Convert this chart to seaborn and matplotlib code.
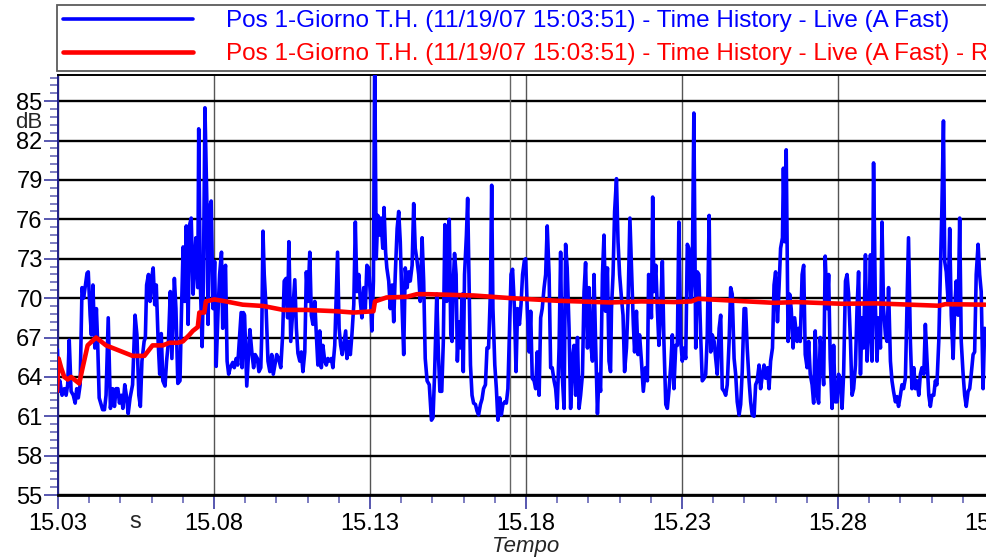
import numpy as np
import pandas as pd
import seaborn as sns
import matplotlib.pyplot as plt
from matplotlib.ticker import FixedLocator, MultipleLocator
from matplotlib.lines import Line2D

# Time history (A Fast)
blue_t = [15.0298, 15.0302, 15.0306, 15.0313, 15.0320, 15.0326, 15.0331, 15.0336, 15.0342, 15.0349,
          15.0355, 15.0360, 15.0365, 15.0371, 15.0377, 15.0382, 15.0388, 15.0393, 15.0397, 15.0403,
          15.0407, 15.0412, 15.0418, 15.0423, 15.0427, 15.0432, 15.0438, 15.0443, 15.0449, 15.0454,
          15.0461, 15.0468, 15.0475, 15.0481, 15.0486, 15.0492, 15.0497, 15.0503, 15.0508, 15.0514,
          15.0519, 15.0525, 15.0531, 15.0539, 15.0547, 15.0553, 15.0559, 15.0564, 15.0569, 15.0576,
          15.0580, 15.0584, 15.0590, 15.0595, 15.0600, 15.0605, 15.0610, 15.0615, 15.0621, 15.0626,
          15.0631, 15.0636, 15.0643, 15.0648, 15.0654, 15.0660, 15.0665, 15.0673, 15.0678, 15.0684,
          15.0691, 15.0696, 15.0701, 15.0706, 15.0711, 15.0717, 15.0722, 15.0727, 15.0733, 15.0738,
          15.0742, 15.0748, 15.0751, 15.0756, 15.0762, 15.0766, 15.0771, 15.0777, 15.0781, 15.0786,
          15.0791, 15.0797, 15.0802, 15.0807, 15.0813, 15.0818, 15.0824, 15.0828, 15.0833, 15.0837,
          15.0842, 15.0847, 15.0852, 15.0860, 15.0865, 15.0871, 15.0876, 15.0881, 15.0887,
          15.0890, 15.0894, 15.0898, 15.0905, 15.0910, 15.0915, 15.0922, 15.0927, 15.0932, 15.0939,
          15.0944, 15.0950, 15.0953, 15.0957, 15.0961, 15.0967, 15.0973, 15.0979, 15.0985, 15.0990,
          15.0995, 15.1001, 15.1007, 15.1014, 15.1020, 15.1025, 15.1031, 15.1036, 15.1040, 15.1046,
          15.1053, 15.1059, 15.1064, 15.1069, 15.1075, 15.1080, 15.1085, 15.1091, 15.1096, 15.1101,
          15.1107, 15.1112, 15.1117, 15.1123, 15.1128, 15.1133, 15.1139, 15.1144, 15.1149, 15.1155,
          15.1160, 15.1165, 15.1171, 15.1176, 15.1181, 15.1187, 15.1192, 15.1196, 15.1201, 15.1206,
          15.1211, 15.1217, 15.1222, 15.1226, 15.1232, 15.1237, 15.1242, 15.1248, 15.1253, 15.1258,
          15.1264, 15.1269, 15.1274, 15.1280, 15.1285, 15.1290, 15.1296, 15.1301, 15.1306, 15.1311,
          15.1315, 15.1320, 15.1325, 15.1330, 15.1335, 15.1341, 15.1345, 15.1350, 15.1354, 15.1360,
          15.1365, 15.1371, 15.1376, 15.1381, 15.1387, 15.1392, 15.1397, 15.1403, 15.1408, 15.1413,
          15.1419, 15.1424, 15.1429, 15.1435, 15.1440, 15.1445, 15.1451, 15.1456, 15.1461, 15.1467,
          15.1472, 15.1477, 15.1483,
          15.1490, 15.1497, 15.1502, 15.1507, 15.1514, 15.1519, 15.1524, 15.1530, 15.1535, 15.1540,
          15.1546, 15.1550, 15.1554, 15.1559, 15.1563, 15.1567, 15.1571, 15.1576, 15.1580, 15.1585,
          15.1591, 15.1595, 15.1599, 15.1603, 15.1609, 15.1613, 15.1617, 15.1622, 15.1627, 15.1632,
          15.1638, 15.1643, 15.1648, 15.1654, 15.1659, 15.1664, 15.1670, 15.1675, 15.1680, 15.1686,
          15.1690, 15.1694, 15.1700, 15.1705, 15.1710, 15.1716, 15.1721, 15.1726, 15.1732, 15.1737,
          15.1742, 15.1748, 15.1752, 15.1757, 15.1763, 15.1768, 15.1773, 15.1779, 15.1784, 15.1789,
          15.1795, 15.1799, 15.1804, 15.1810, 15.1815, 15.1820, 15.1826, 15.1831, 15.1836, 15.1842,
          15.1847, 15.1852, 15.1858, 15.1863, 15.1868, 15.1874, 15.1879, 15.1884, 15.1890, 15.1895,
          15.1900, 15.1906, 15.1911, 15.1916, 15.1922, 15.1927, 15.1932, 15.1938, 15.1943, 15.1949,
          15.1954, 15.1959, 15.1965, 15.1970, 15.1975, 15.1981, 15.1986, 15.1991, 15.1997, 15.2002,
          15.2007, 15.2013, 15.2018, 15.2023, 15.2029, 15.2034, 15.2039, 15.2045, 15.2050, 15.2055,
          15.2061, 15.2066, 15.2071,
          15.2074, 15.2079, 15.2084, 15.2090, 15.2095, 15.2100, 15.2106, 15.2111, 15.2116, 15.2122,
          15.2127, 15.2133, 15.2139, 15.2144, 15.2148, 15.2154, 15.2159, 15.2164, 15.2170, 15.2176,
          15.2183, 15.2189, 15.2193, 15.2197, 15.2202, 15.2206, 15.2210, 15.2216, 15.2221, 15.2226,
          15.2232, 15.2237, 15.2242, 15.2248, 15.2253, 15.2258, 15.2264, 15.2269, 15.2274, 15.2280,
          15.2285, 15.2290, 15.2296, 15.2301, 15.2306, 15.2312, 15.2317, 15.2322, 15.2328, 15.2333,
          15.2338, 15.2344, 15.2349, 15.2354, 15.2360, 15.2365, 15.2371, 15.2376, 15.2381, 15.2387,
          15.2392, 15.2397, 15.2403, 15.2408, 15.2413, 15.2419, 15.2424, 15.2429, 15.2435, 15.2440,
          15.2445, 15.2451, 15.2456, 15.2461, 15.2467, 15.2472, 15.2477, 15.2483, 15.2488, 15.2493,
          15.2499, 15.2504, 15.2509, 15.2515, 15.2520, 15.2525, 15.2531, 15.2536, 15.2541, 15.2547,
          15.2552, 15.2558, 15.2563, 15.2568, 15.2574, 15.2579, 15.2584, 15.2590, 15.2595, 15.2600,
          15.2606, 15.2611, 15.2616, 15.2622, 15.2625, 15.2629, 15.2634, 15.2640, 15.2645, 15.2650,
          15.2656, 15.2661,
          15.2669, 15.2674, 15.2679, 15.2685, 15.2690, 15.2695, 15.2701, 15.2706, 15.2711, 15.2717,
          15.2722, 15.2727, 15.2733, 15.2738, 15.2743, 15.2749, 15.2754, 15.2759, 15.2765, 15.2770,
          15.2775, 15.2781, 15.2786, 15.2791, 15.2797, 15.2802, 15.2808, 15.2813, 15.2818, 15.2824,
          15.2829, 15.2834, 15.2840, 15.2845, 15.2850, 15.2856, 15.2861, 15.2866, 15.2872, 15.2877,
          15.2882, 15.2888, 15.2893, 15.2898, 15.2904, 15.2909, 15.2914, 15.2920, 15.2925, 15.2930,
          15.2936, 15.2941, 15.2946, 15.2952, 15.2957, 15.2962, 15.2968, 15.2973, 15.2978, 15.2984,
          15.2989, 15.2994, 15.3000, 15.3005, 15.3010, 15.3016, 15.3021, 15.3026, 15.3032, 15.3037,
          15.3043, 15.3048, 15.3053, 15.3059, 15.3064, 15.3069, 15.3075, 15.3080, 15.3085, 15.3091,
          15.3096, 15.3101, 15.3107, 15.3112, 15.3117, 15.3123, 15.3128, 15.3133, 15.3138, 15.3142,
          15.3147, 15.3153, 15.3158, 15.3163, 15.3169, 15.3174, 15.3179, 15.3185, 15.3190, 15.3195,
          15.3201, 15.3206, 15.3211, 15.3217, 15.3222, 15.3227, 15.3233, 15.3238, 15.3243, 15.3249,
          15.3254, 15.3259, 15.3265, 15.3270]
blue_db = [66.1, 62.9, 63.7, 62.6, 63.1, 62.6, 63.4, 66.8, 62.9, 62.6,
           62.0, 63.1, 62.4, 63.4, 70.8, 70.0, 71.0, 71.9, 72.0, 68.7,
           67.2, 71.0, 66.2, 69.2, 66.7, 62.4, 61.9, 61.5, 61.5, 62.6,
           68.5, 61.6, 63.1, 61.75, 63.1, 63.1, 62.0, 62.6, 61.6, 63.4,
           62.6, 61.2, 62.4, 63.4, 68.7, 67.2, 62.6, 61.75, 65.2, 66.7,
           67.0, 71.0, 71.8, 69.75, 71.5, 72.3, 69.5, 71.0, 66.7, 64.2,
           67.3, 63.7, 63.3, 65.2, 66.7, 70.5, 65.4, 71.5, 69.2, 63.5,
           63.7, 69.2, 73.9, 69.75, 75.5, 68.0, 75.6, 76.1, 70.3, 72.8,
           74.6, 70.8, 82.9, 71.3, 66.3, 71.3, 84.5, 77.4, 68.0, 76.9,
           77.4, 69.2, 72.8, 64.8, 69.0, 71.8, 73.5, 67.7, 71.8, 72.5,
           65.2, 64.2, 64.7, 65.1, 64.7, 65.4, 64.9, 66.7, 68.9,
           64.7, 68.9, 68.7, 63.3, 65.4, 67.6, 65.7, 64.7, 65.7, 65.4,
           64.4, 64.7, 67.2, 75.1, 71.8, 69.2, 65.2, 64.4, 65.7, 64.2,
           64.9, 65.7, 65.4, 64.7, 67.2, 71.3, 71.5, 68.5, 74.3, 66.7,
           69.2, 71.4, 67.7, 65.8, 65.2, 65.9, 64.4, 65.9, 72.0, 69.75,
           73.5, 68.7, 68.0, 69.75, 67.2, 64.9, 67.5, 64.7, 66.4, 65.2,
           64.9, 65.4, 65.2, 65.4, 64.7, 66.4, 70.5, 73.5, 67.7, 66.4,
           65.7, 66.7, 67.5, 65.4, 66.7, 65.7, 67.2, 69.5, 75.8, 70.5,
           71.8, 69.75, 68.5, 70.8, 69.2, 72.5, 72.3, 70.3, 67.5, 71.3,
           88.5, 73.0, 76.3, 74.8, 76.1, 73.8, 76.9, 73.5, 72.3, 71.3,
           69.2, 71.0, 68.2, 71.8, 75.3, 76.6, 74.3, 69.2, 65.7, 72.3,
           70.8, 72.0, 71.3, 72.5, 77.2, 73.8, 72.8, 71.8, 69.75, 74.6,
           71.3, 65.4, 63.7,
           63.4, 60.7, 60.9, 64.2, 70.3, 65.9, 62.9, 62.9, 66.7, 75.6,
           69.75, 71.3, 76.0, 67.2, 66.7, 71.3, 73.4, 71.8, 65.2, 68.2,
           66.2, 70.3, 64.4, 71.8, 74.8, 77.6, 71.8, 64.9, 62.6, 62.0,
           61.9, 61.4, 61.1, 61.9, 62.3, 63.1, 63.4, 66.2, 66.2, 70.5,
           78.6, 69.2, 64.9, 63.1, 60.7, 62.4, 61.1, 61.9, 62.1, 62.0,
           63.1, 68.2, 71.8, 72.2, 69.2, 64.4, 69.2, 68.0, 69.5, 71.8,
           72.9, 73.0, 69.2, 65.9, 69.0, 63.9, 63.7, 63.1, 65.9, 62.6,
           68.5, 69.2, 70.8, 71.8, 75.5, 71.8, 64.7, 64.7, 63.7, 63.1,
           61.6, 66.2, 73.5, 64.2, 61.6, 74.1, 72.3, 67.7, 61.6, 65.4,
           66.4, 62.6, 67.0, 61.6, 62.6, 64.2, 70.5, 72.7, 66.2, 70.8,
           66.7, 65.2, 71.8, 66.7, 61.2, 64.2, 62.9, 71.8, 74.8, 69.0,
           72.3, 65.2, 64.4,
           69.2, 71.8, 76.6, 79.1, 74.3, 71.8, 70.0, 68.7, 64.4, 66.2,
           69.5, 76.1, 71.8, 68.0, 65.9, 69.0, 65.7, 67.2, 65.2, 62.9,
           64.7, 63.7, 71.8, 71.3, 68.5, 77.7, 70.5, 72.5, 69.2, 66.4,
           69.2, 72.8, 66.7, 61.9, 61.6, 62.9, 64.9, 67.2, 63.1, 66.4,
           66.4, 75.8, 66.7, 65.2, 66.2, 65.4, 74.1, 73.8, 69.75, 71.8,
           84.1, 66.2, 72.0, 71.8, 67.0, 63.7, 63.9, 64.2, 67.2, 76.3,
           65.9, 67.2, 66.7, 65.4, 64.2, 67.7, 68.7, 63.1, 62.9, 62.6,
           63.4, 66.7, 70.8, 70.3, 65.4, 64.2, 62.1, 61.1, 61.9, 64.4,
           69.2, 69.2, 66.2, 63.7, 62.1, 61.1, 61.0, 63.4, 63.7, 64.9,
           63.1, 64.2, 64.9, 63.9, 64.7, 63.1, 65.2, 66.2, 71.0, 72.0,
           68.2, 70.8, 73.8, 74.6, 79.9, 74.3, 81.3, 66.7, 70.3, 69.2,
           66.2, 68.5,
           66.7, 67.7, 66.7, 71.8, 72.5, 65.7, 64.7, 66.7, 64.2, 63.4,
           62.0, 67.5, 62.6, 62.0, 67.0, 65.2, 63.4, 73.2, 69.2, 71.8,
           65.4, 61.6, 66.4, 62.1, 62.1, 64.2, 63.7, 61.6, 64.2, 71.3,
           71.8, 70.3, 66.7, 62.6, 63.1, 64.9, 69.2, 72.0, 64.2, 68.5,
           66.2, 73.3, 65.2, 67.2, 73.3, 65.2, 80.3, 69.2, 65.2, 68.5,
           66.2, 75.8, 69.2, 67.2, 66.7, 70.8, 65.2, 63.7, 62.9, 62.1,
           62.5, 61.75, 62.6, 63.4, 63.1, 63.9, 69.2, 74.6, 66.7, 63.1,
           64.7, 63.1, 63.7, 62.6, 64.2, 64.7, 64.2, 68.0, 65.4, 62.6,
           61.75, 62.6, 62.6, 63.7, 63.4, 66.7, 71.8, 76.9, 83.5, 72.8,
           72.0, 69.75, 75.3, 68.7, 65.4, 69.2, 71.3, 68.7, 76.1, 66.7,
           64.2, 62.6, 61.75, 62.9, 63.1, 64.2, 65.7, 65.9, 71.8, 74.1,
           71.8, 70.5, 63.1, 67.7]

# Running level (red trace)
red_t = [15.0297, 15.0302, 15.0310, 15.0320, 15.0331, 15.0342, 15.0352, 15.0368, 15.0379, 15.0395,
         15.0422, 15.0454, 15.0539, 15.0577, 15.0603, 15.0636, 15.0657, 15.0684, 15.0700, 15.0721,
         15.0732, 15.0748, 15.0753, 15.0769, 15.0774, 15.0801, 15.0838, 15.0892, 15.0958, 15.1022,
         15.1097, 15.1193, 15.1247, 15.1311, 15.1316, 15.1353, 15.1418, 15.1450, 15.1486, 15.1633,
         15.1751, 15.1900, 15.2071, 15.2170, 15.2276, 15.2330, 15.2351, 15.2469, 15.2597, 15.2665,
         15.2813, 15.2920, 15.3123, 15.3144, 15.3272]
red_db = [62.9, 65.4, 64.7, 64.0, 63.8, 64.0, 63.8, 63.5, 64.7, 66.4,
          67.0, 66.4, 65.6, 65.6, 66.4, 66.4, 66.6, 66.6, 66.7, 67.2,
          67.5, 67.8, 68.9, 68.9, 69.75, 69.9, 69.75, 69.5, 69.4, 69.1,
          69.1, 69.0, 68.9, 69.0, 69.75, 70.05, 70.1, 70.3, 70.3, 70.2,
          70.0, 69.8, 69.67, 69.75, 69.7, 69.75, 69.95, 69.8, 69.64, 69.7,
          69.57, 69.6, 69.42, 69.54, 69.5]

x_ticks = [15.03, 15.08, 15.13, 15.18, 15.23, 15.28, 15.33]
x_labels = ['15.03', '15.08', '15.13', '15.18', '15.23', '15.28', '15.33']
y_ticks = [55, 58, 61, 64, 67, 70, 73, 76, 79, 82, 85]
cursor_t = 15.1749

label_live = 'Pos 1-Giorno T.H. (11/19/07 15:03:51) - Time History - Live (A Fast)'
label_run = label_live + ' - Running Leq'

blue = pd.DataFrame({'Tempo': blue_t, 'dB': blue_db})
red = pd.DataFrame({'Tempo': red_t, 'dB': red_db})

sns.set_style('white')
plt.rcParams['font.family'] = ['Liberation Sans', 'DejaVu Sans']

fig = plt.figure(figsize=(9.86, 5.6), dpi=100)
ax = fig.add_axes([58 / 986, 65 / 560, 936 / 986, 420 / 560])

sns.lineplot(data=blue, x='Tempo', y='dB', color='#0000ff', lw=2.6,
             estimator=None, sort=False, ax=ax, zorder=3)
sns.lineplot(data=red, x='Tempo', y='dB', color='#ff0000', lw=3.3,
             estimator=None, sort=False, ax=ax, zorder=4)

ax.set_xlim(15.03, 15.33)
ax.set_ylim(55, 87)

ax.xaxis.set_major_locator(FixedLocator(x_ticks))
ax.set_xticklabels(x_labels)
ax.xaxis.set_minor_locator(MultipleLocator(0.01))
ax.yaxis.set_major_locator(FixedLocator(y_ticks))
ax.yaxis.set_minor_locator(FixedLocator(np.arange(55, 87, 0.6)))

tick_col = '#2a2a9a'
ax.tick_params(axis='both', which='major', length=10, width=1.1, color=tick_col,
               labelsize=17, labelcolor='black', direction='out')
ax.tick_params(axis='both', which='minor', length=5.5, width=1.1, color='#5a5ab0',
               direction='out')
ax.tick_params(axis='x', which='both', bottom=True, pad=3)
ax.tick_params(axis='y', which='both', left=True, pad=1)

ax.grid(axis='y', which='major', color='black', lw=1.7)
ax.grid(axis='x', which='major', color='#555555', lw=1.0)
ax.axvline(cursor_t, color='#666666', lw=1.0, zorder=1)

ax.spines['left'].set_color('#20208a')
ax.spines['left'].set_linewidth(1.4)
ax.spines['bottom'].set_color('black')
ax.spines['bottom'].set_linewidth(2)
ax.spines['top'].set_color('black')
ax.spines['top'].set_linewidth(1.4)
ax.spines['right'].set_visible(False)

ax.set_ylabel('')
ax.set_xlabel('Tempo', fontsize=16, style='italic', labelpad=1)
ax.text(-0.0171, 0.886, 'dB', transform=ax.transAxes, fontsize=16,
        ha='right', va='center')
ax.text(0.0823, -0.064, 's', transform=ax.transAxes, fontsize=17,
        ha='center', va='center')

handles = [Line2D([], [], color='#0000ff', lw=2.6),
           Line2D([], [], color='#ff0000', lw=3.3)]
leg = ax.legend(handles, [label_live, label_run], loc='lower left',
                bbox_to_anchor=(-0.001, 1.0 + 4 / 420), borderaxespad=0,
                fontsize=17.5, handlelength=5.35, handletextpad=1.36,
                borderpad=0.23, labelspacing=0.45, frameon=True, fancybox=False)
leg.get_frame().set_edgecolor('#333333')
leg.get_frame().set_linewidth(1.3)
leg.get_texts()[0].set_color('#0000ff')
leg.get_texts()[1].set_color('#ff0000')

fig.savefig('out.png', dpi=100)
